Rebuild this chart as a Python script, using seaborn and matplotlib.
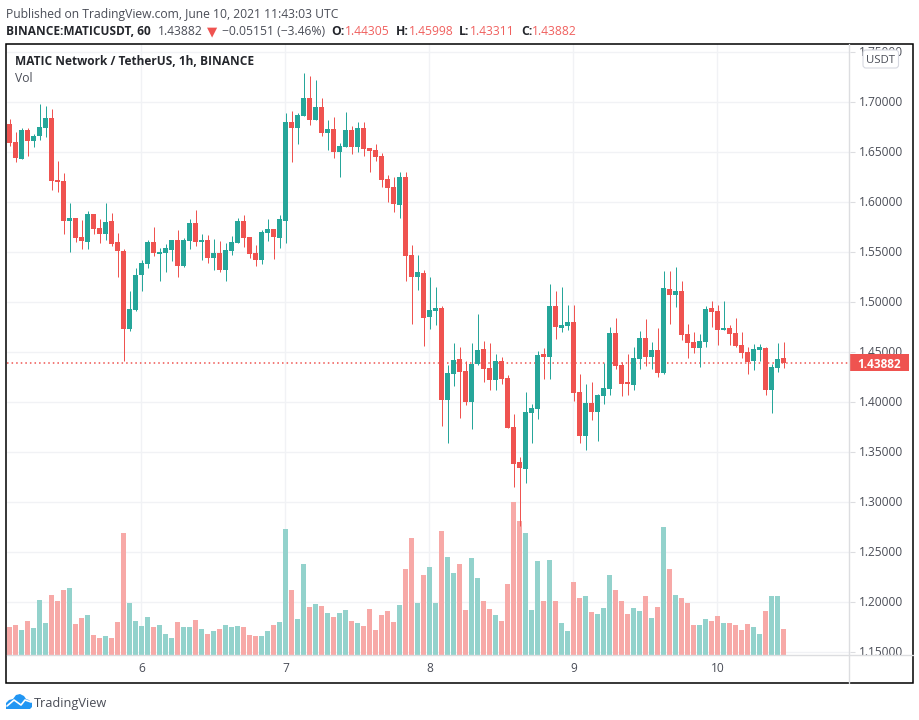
import matplotlib
matplotlib.use("Agg")
import matplotlib.pyplot as plt
from matplotlib.patches import FancyBboxPatch, Polygon, Rectangle
import numpy as np
import pandas as pd
import seaborn as sns

# hourly candles
opens = [1.6775, 1.6595, 1.6430, 1.6715, 1.6605, 1.6655, 1.6735, 1.6835, 1.6215, 1.6205,
         1.5805, 1.5835, 1.5645, 1.5595, 1.5875, 1.5735, 1.5675, 1.5805, 1.5595, 1.5505,
         1.4725, 1.4915, 1.5265, 1.5375, 1.5595, 1.5475, 1.5485, 1.5515, 1.5615, 1.5355,
         1.5605, 1.5785, 1.5595, 1.5615, 1.5435, 1.5485, 1.5315, 1.5505, 1.5585, 1.5805,
         1.5645, 1.5485, 1.5415, 1.5685, 1.5725, 1.5635, 1.5805, 1.6795, 1.6735, 1.6855,
         1.7035, 1.6815, 1.6945, 1.6685, 1.6725, 1.6495, 1.6545, 1.6715, 1.6545, 1.6735,
         1.6535, 1.6515, 1.6455, 1.6225, 1.6145, 1.5965, 1.6245, 1.5465, 1.5245, 1.5285,
         1.4845, 1.4905, 1.4935, 1.4015, 1.4275, 1.4425, 1.4305, 1.3995, 1.4375, 1.4525,
         1.4335, 1.4215, 1.4405, 1.4235, 1.3745, 1.3395, 1.3325, 1.3885, 1.3925, 1.4475,
         1.4445, 1.4955, 1.4735, 1.4755, 1.4795, 1.4095, 1.3655, 1.3985, 1.3895, 1.4055,
         1.4125, 1.4685, 1.4365, 1.4195, 1.4165, 1.4425, 1.4635, 1.4445, 1.4515, 1.4285,
         1.5125, 1.5065, 1.5105, 1.4675, 1.4595, 1.4535, 1.4595, 1.4935, 1.4905, 1.4715,
         1.4735, 1.4685, 1.4565, 1.4495, 1.4405, 1.4515, 1.4535, 1.4115, 1.4335, 1.44305]
closes = [1.6585, 1.6435, 1.6715, 1.6605, 1.6655, 1.6745, 1.6835, 1.6205, 1.6195, 1.5805,
          1.5835, 1.5635, 1.5605, 1.5875, 1.5725, 1.5675, 1.5795, 1.5575, 1.5505, 1.4725,
          1.4925, 1.5265, 1.5385, 1.5595, 1.5485, 1.5495, 1.5535, 1.5615, 1.5355, 1.5615,
          1.5785, 1.5595, 1.5615, 1.5435, 1.5485, 1.5315, 1.5515, 1.5595, 1.5805, 1.5635,
          1.5475, 1.5415, 1.5695, 1.5725, 1.5645, 1.5825, 1.6795, 1.6735, 1.6865, 1.7035,
          1.6815, 1.6945, 1.6685, 1.6725, 1.6495, 1.6555, 1.6715, 1.6545, 1.6735, 1.6525,
          1.6505, 1.6445, 1.6215, 1.6135, 1.5975, 1.6245, 1.5455, 1.5245, 1.5295, 1.4835,
          1.4915, 1.4935, 1.4015, 1.4285, 1.4415, 1.4295, 1.3995, 1.4375, 1.4515, 1.4325,
          1.4215, 1.4405, 1.4225, 1.3735, 1.3375, 1.3335, 1.3895, 1.3935, 1.4465, 1.4445,
          1.4955, 1.4745, 1.4765, 1.4795, 1.4085, 1.3655, 1.3985, 1.3895, 1.4065, 1.4135,
          1.4685, 1.4355, 1.4175, 1.4175, 1.4435, 1.4635, 1.4445, 1.4515, 1.4285, 1.5135,
          1.5065, 1.5105, 1.4665, 1.4585, 1.4535, 1.4605, 1.4925, 1.4895, 1.4715, 1.4735,
          1.4675, 1.4555, 1.4485, 1.4395, 1.4525, 1.4545, 1.4115, 1.4345, 1.4425, 1.43882]
highs = [1.6825, 1.6695, 1.6735, 1.6735, 1.6675, 1.6975, 1.6955, 1.6925, 1.6405, 1.6285,
         1.5985, 1.5835, 1.5815, 1.5905, 1.5875, 1.5825, 1.5985, 1.5885, 1.5685, 1.5525,
         1.5105, 1.5335, 1.5415, 1.5615, 1.5745, 1.5535, 1.5575, 1.5615, 1.5715, 1.5635,
         1.5825, 1.5915, 1.5675, 1.5665, 1.5625, 1.5605, 1.5585, 1.5655, 1.5835, 1.5865,
         1.5645, 1.5565, 1.5715, 1.5825, 1.5725, 1.5865, 1.6885, 1.6905, 1.6885, 1.7285,
         1.7255, 1.7215, 1.7035, 1.6815, 1.6845, 1.6585, 1.6895, 1.6755, 1.6795, 1.6795,
         1.6535, 1.6575, 1.6485, 1.6265, 1.6245, 1.6295, 1.6295, 1.5565, 1.5465, 1.5315,
         1.5245, 1.5145, 1.4955, 1.4365, 1.4585, 1.4545, 1.4405, 1.4585, 1.4875, 1.4605,
         1.4585, 1.4475, 1.4445, 1.4265, 1.3875, 1.3445, 1.4095, 1.3975, 1.4505, 1.4535,
         1.5175, 1.5105, 1.5145, 1.4965, 1.4965, 1.4275, 1.4175, 1.4195, 1.4075, 1.4385,
         1.4745, 1.4835, 1.4395, 1.4475, 1.4545, 1.4705, 1.4825, 1.4595, 1.4735, 1.5305,
         1.5305, 1.5345, 1.5205, 1.4775, 1.4695, 1.4675, 1.4955, 1.5005, 1.4965, 1.5005,
         1.4765, 1.4835, 1.4695, 1.4545, 1.4575, 1.4575, 1.4545, 1.4375, 1.4585, 1.45998]
lows = [1.6555, 1.6395, 1.6425, 1.6455, 1.6545, 1.6615, 1.6645, 1.6115, 1.6095, 1.5680,
        1.5495, 1.5595, 1.5525, 1.5525, 1.5680, 1.5585, 1.5615, 1.5555, 1.5245, 1.4405,
        1.4705, 1.4905, 1.5105, 1.5335, 1.5455, 1.5205, 1.5295, 1.5405, 1.5245, 1.5345,
        1.5525, 1.5555, 1.5415, 1.5385, 1.5315, 1.5295, 1.5205, 1.5465, 1.5585, 1.5545,
        1.5435, 1.5355, 1.5375, 1.5605, 1.5425, 1.5535, 1.5585, 1.6395, 1.6575, 1.6855,
        1.6765, 1.6815, 1.6655, 1.6515, 1.6435, 1.6245, 1.6545, 1.6475, 1.6495, 1.6455,
        1.6295, 1.6405, 1.6145, 1.5995, 1.5895, 1.5835, 1.5205, 1.4775, 1.5115, 1.4555,
        1.4725, 1.4765, 1.3755, 1.3585, 1.4155, 1.3835, 1.3965, 1.3725, 1.4365, 1.4195,
        1.4115, 1.4115, 1.4175, 1.3735, 1.3145, 1.2755, 1.3185, 1.3585, 1.3825, 1.4225,
        1.4225, 1.4625, 1.4695, 1.4715, 1.4005, 1.3585, 1.3515, 1.3815, 1.3605, 1.3975,
        1.4065, 1.4325, 1.4055, 1.4065, 1.4115, 1.4325, 1.4355, 1.4325, 1.4245, 1.4275,
        1.4775, 1.4945, 1.4615, 1.4435, 1.4485, 1.4345, 1.4545, 1.4745, 1.4565, 1.4715,
        1.4565, 1.4545, 1.4435, 1.4275, 1.4315, 1.4405, 1.4065, 1.3885, 1.4295, 1.43311]
# volume has no scale in the chart, so these are relative heights
volumes = [28, 30, 25, 34, 27, 55, 32, 60, 54, 65, 67, 31, 37, 40, 20, 17, 19, 17, 33, 122,
           52, 34, 29, 38, 28, 30, 21, 17, 33, 28, 28, 35, 26, 21, 24, 26, 30, 28, 29, 28,
           20, 19, 19, 24, 30, 33, 126, 65, 36, 91, 48, 51, 49, 42, 38, 42, 45, 34, 32, 29,
           46, 25, 40, 44, 33, 50, 86, 117, 52, 80, 88, 52, 124, 98, 82, 91, 45, 97, 77, 54,
           46, 40, 34, 71, 153, 134, 122, 45, 94, 54, 95, 54, 32, 24, 73, 57, 59, 43, 41, 47,
           80, 65, 54, 41, 47, 44, 59, 37, 48, 128, 86, 60, 57, 52, 30, 30, 36, 34, 39, 32,
           32, 30, 25, 31, 28, 21, 44, 59, 59, 26]
day_labels = ["6", "7", "8", "9", "10"]
day_hours = [22, 46, 70, 94, 118]
price_ticks = [1.15, 1.20, 1.25, 1.30, 1.35, 1.40, 1.45, 1.50, 1.55, 1.60, 1.65, 1.70, 1.75]

UP = "#26a69a"
DOWN = "#ef5350"
UP_VOL = "#93d2cc"
DOWN_VOL = "#f7a9a7"
GRID = "#f1f2f5"
AXIS = "#dcdde0"
TEXT = "#4a4d57"

sns.set_theme(style="white")
plt.rcParams["font.family"] = ["Open Sans", "DejaVu Sans"]

df = pd.DataFrame({"hour": np.arange(len(opens)), "open": opens, "close": closes,
                   "high": highs, "low": lows, "volume": volumes})
df["dir"] = np.where(df["close"] >= df["open"], "up", "down")

fig = plt.figure(figsize=(9.2, 7.2), dpi=100)
ax = fig.add_axes([7 / 920, 1 - 655 / 720, 843 / 920, 611 / 720])
xlim = (-2.5 / 6, 840.5 / 6)
ylim = (1.1465, 1.7575)

# volume sits above the grid and below the candles
ax_vol = ax.twinx()
sns.barplot(data=df, x="hour", y="volume", hue="dir", palette={"up": UP_VOL, "down": DOWN_VOL},
            native_scale=True, dodge=False, width=5 / 6, saturation=1, legend=False,
            linewidth=0, ax=ax_vol)
ax_vol.set_xlim(xlim)
ax_vol.set_ylim(0, 611)
ax_vol.axis("off")

ax_c = ax.twinx()
ax_c.set_xlim(xlim)
ax_c.set_ylim(ylim)
ax_c.axis("off")
last = closes[-1]
ax_c.axhline(last, color=DOWN, linewidth=1.1, linestyle=(0, (1, 2)), zorder=1)
colors = [UP if d == "up" else DOWN for d in df["dir"]]
ax_c.vlines(df["hour"], df["low"], df["high"], colors=colors, linewidth=0.72, zorder=2)
ax_c.bar(df["hour"], (df["close"] - df["open"]).abs(), bottom=df[["open", "close"]].min(axis=1),
         width=5 / 6, color=colors, linewidth=0, zorder=3)

# price axes: grid and labels only, set after twinx because that moves the ticks left
ax.set_xlim(xlim)
ax.set_ylim(ylim)
ax.set_xticks(day_hours)
ax.set_xticklabels(day_labels)
ax.set_yticks(price_ticks)
ax.set_yticklabels([f"{p:.5f}" for p in price_ticks])
ax.yaxis.tick_right()
ax.grid(True, color=GRID, linewidth=1.0)
ax.tick_params(axis="both", length=3.6, width=0.8, color=AXIS, labelcolor=TEXT, labelsize=8.6)
ax.tick_params(axis="y", pad=3)
ax.tick_params(axis="x", pad=1.5)
for name in ["top", "left", "right", "bottom"]:
    ax.spines[name].set_visible(False)

# last price tag on the scale
tag = ax_c.get_yaxis_transform()
ax_c.add_patch(Rectangle((1.0, last - 0.0085), 58.5 / 843, 0.017, transform=tag,
                         facecolor=DOWN, edgecolor="none", clip_on=False, zorder=5))
ax_c.text(1 + 29 / 843, last, f"{last:.5f}", transform=tag, color="white", fontsize=8.6,
          fontweight="bold", ha="center", va="center_baseline", clip_on=False, zorder=6)

# frame, scale separators, badge and logo, in pixels of the picture
deco = fig.add_axes([0, 0, 1, 1], facecolor="none")
deco.set_xlim(0, 920)
deco.set_ylim(720, 0)
deco.axis("off")
deco.plot([7, 913], [655, 655], color=AXIS, linewidth=1.0)
deco.plot([849.5, 849.5], [44, 683], color=AXIS, linewidth=1.0)
deco.add_patch(Rectangle((6.5, 43.5), 906.5, 639.5, fill=False, edgecolor="black", linewidth=1.1))
deco.add_patch(FancyBboxPatch((865, 52), 31.5, 14, boxstyle="round,pad=2,rounding_size=3",
                              facecolor="white", edgecolor="#d6d8e0", linewidth=0.8))
deco.text(880.5, 59, "USDT", color=TEXT, fontsize=8.2, ha="center", va="center_baseline")

cloud = [(6, 709), (6, 703), (9, 700), (13, 699), (16, 695), (20, 694), (24, 696), (26, 699),
         (29, 700), (32, 703), (32, 707), (30, 709)]
deco.add_patch(Polygon(cloud, closed=True, facecolor="#2196f3", edgecolor="none"))
deco.plot([7, 14, 21, 25, 31], [706, 700, 705, 700, 702], color="white", linewidth=1.2)
deco.text(34, 702, "TradingView", color=TEXT, fontsize=9.2, va="center_baseline")


def header(x, y, s, color="#2d2f36", weight="normal", size=8.7):
    deco.text(x, y, s, color=color, fontsize=size, fontweight=weight, va="center_baseline")


header(6, 13, "Published on TradingView.com, June 10, 2021 11:43:03 UTC", color=TEXT)
header(6, 30, "BINANCE:MATICUSDT, 60", weight="bold", color="#24262c", size=8.55)
header(158, 30, "1.43882", color=TEXT)
header(207, 30, "▼", color=DOWN, size=9.5)
header(222, 30, "−0.05151 (−3.46%)", color=TEXT)
for lx, vx, key, val in [(331, 345, "O:", "1.44305"), (396, 409, "H:", "1.45998"),
                         (459, 470, "L:", "1.43311"), (521, 532, "C:", "1.43882")]:
    header(lx, 30, key, weight="bold", color="#24262c")
    header(vx, 30, val, color="#f0605e")
header(15, 60, "MATIC Network / TetherUS, 1h, BINANCE", weight="bold", color="#24262c", size=8.55)
header(15, 77, "Vol", color=TEXT)

fig.savefig("out.png", dpi=100)
